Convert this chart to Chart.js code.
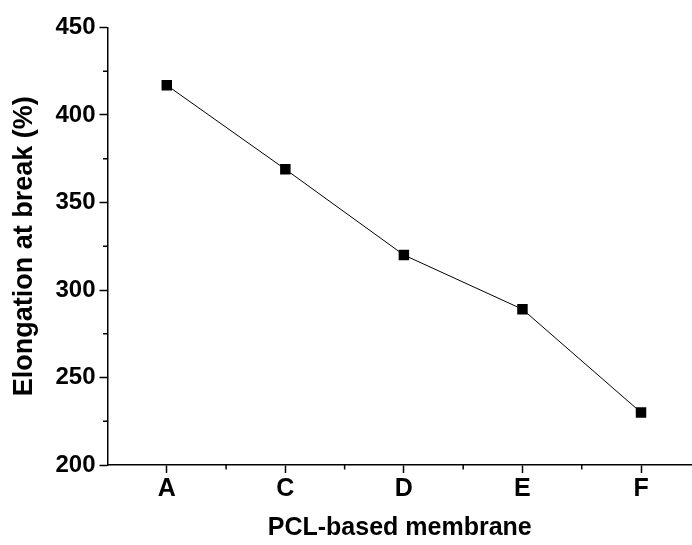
<!DOCTYPE html>
<html>
<head>
<meta charset="utf-8">
<script src="https://cdn.jsdelivr.net/npm/chart.js@4/dist/chart.umd.min.js"></script>
<style>
  html, body { margin: 0; padding: 0; background: #fff; overflow: hidden; }
  #wrap { width: 692px; height: 545px; position: relative; }
</style>
</head>
<body>
<div id="wrap"><canvas id="c"></canvas></div>
<script>
const categories = ['A', 'C', 'D', 'E', 'F'];
const elongation = [417, 369, 320, 289, 230];
const yMajorTicks = [200, 250, 300, 350, 400, 450];
const yMinorTicks = [225, 275, 325, 375, 425];
const xMinorTicks = [0.5, 1.5, 2.5, 3.5];
const xTitle = 'PCL-based membrane';
const yTitle = 'Elongation at break (%)';

const FONT = "'Liberation Sans', Arial, sans-serif";

const minorTicks = {
  id: 'minorTicks',
  afterDraw(chart) {
    const ctx = chart.ctx;
    const xs = chart.scales.x, ys = chart.scales.y;
    const area = chart.chartArea;
    ctx.save();
    ctx.strokeStyle = '#000';
    ctx.lineWidth = 1.5;
    ctx.beginPath();
    xMinorTicks.forEach(v => {
      const px = xs.getPixelForValue(v);
      ctx.moveTo(px, area.bottom);
      ctx.lineTo(px, area.bottom + 4.5);
    });
    yMinorTicks.forEach(v => {
      const py = ys.getPixelForValue(v);
      ctx.moveTo(area.left, py);
      ctx.lineTo(area.left - 4.5, py);
    });
    ctx.stroke();
    ctx.restore();
  }
};

new Chart(document.getElementById('c'), {
  type: 'line',
  data: {
    datasets: [{
      data: elongation.map((v, i) => ({ x: i, y: v })),
      borderColor: '#000',
      borderWidth: 1,
      backgroundColor: '#000',
      pointStyle: 'rect',
      pointRadius: 7.4,
      pointBorderWidth: 0,
      pointBackgroundColor: '#000',
      tension: 0,
      fill: false
    }]
  },
  options: {
    responsive: true,
    maintainAspectRatio: false,
    animation: false,
    layout: { autoPadding: false, padding: { top: 27.5, left: 0, right: 0, bottom: 0 } },
    plugins: { legend: { display: false }, tooltip: { enabled: false } },
    scales: {
      x: {
        type: 'linear',
        min: -0.5,
        max: 4.43,
        afterBuildTicks: (axis) => { axis.ticks = categories.map((_, i) => ({ value: i })); },
        afterFit: (axis) => { axis.height = 80; axis.paddingLeft = 0; axis.paddingRight = 0; },
        ticks: {
          callback: (v) => categories[v] !== undefined ? categories[v] : '',
          color: '#000',
          font: { family: FONT, size: 25, weight: 'bold' },
          padding: 1,
          maxRotation: 0,
          autoSkip: false
        },
        grid: { drawOnChartArea: false, drawTicks: true, tickLength: 8, tickColor: '#000', tickWidth: 1.5 },
        border: { display: true, color: '#000', width: 1.5 },
        title: {
          display: true,
          text: xTitle,
          color: '#000',
          font: { family: FONT, size: 25, weight: 'bold' },
          padding: { top: 0, bottom: 2 }
        }
      },
      y: {
        min: 200,
        max: 450,
        afterBuildTicks: (axis) => { axis.ticks = yMajorTicks.map(v => ({ value: v })); },
        afterFit: (axis) => { axis.width = 107.5; },
        ticks: {
          color: '#000',
          font: { family: FONT, size: 24, weight: 'bold' },
          padding: 4,
          autoSkip: false
        },
        grid: { drawOnChartArea: false, drawTicks: true, tickLength: 8, tickColor: '#000', tickWidth: 1.5 },
        border: { display: true, color: '#000', width: 1.5 },
        title: {
          display: true,
          text: yTitle,
          color: '#000',
          font: { family: FONT, size: 27, weight: 'bold' },
          padding: { top: 8, bottom: 0 }
        }
      }
    }
  },
  plugins: [minorTicks]
});
</script>
</body>
</html>
